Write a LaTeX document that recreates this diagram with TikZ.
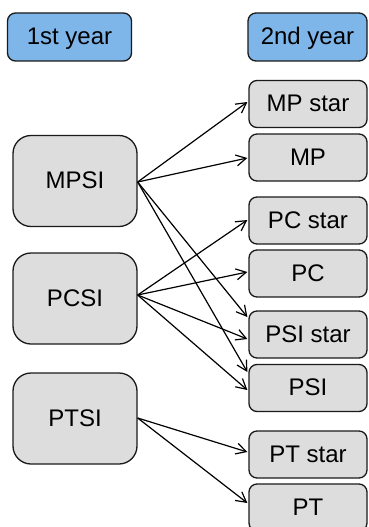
\documentclass[tikz,border=0pt]{standalone}
\usepackage{fontspec}
\setmainfont{Liberation Sans}
\usetikzlibrary{arrows.meta,calc}
\definecolor{boxblue}{HTML}{7EB6EA}
\definecolor{boxgray}{HTML}{DDDDDD}
\definecolor{edgecol}{HTML}{1A1A1A}
\begin{document}
\begin{tikzpicture}[x=1pt,y=-1pt,
  base/.style={draw=edgecol, line width=1.3pt, inner sep=0pt, text=black,
    font=\fontsize{24}{28}\selectfont, text height=17pt, text depth=2pt},
  headbox/.style={base, fill=boxblue, rounded corners=8pt, minimum width=124pt, minimum height=48pt},
  firstbox/.style={base, fill=boxgray, rounded corners=18pt, minimum width=124pt, minimum height=91pt},
  secondbox/.style={base, fill=boxgray, rounded corners=8pt, minimum width=118pt, minimum height=47pt},
  link/.style={draw=black, line width=1.2pt, -{Straight Barb[length=10pt,width=11pt]}}]
\useasboundingbox (0,0) rectangle (368,527);

\node[headbox] (y1) at (69.5,37) {1st year};
\node[headbox, minimum width=119pt] (y2) at (307.5,37) {2nd year};

\node[firstbox] (mpsi) at (75,181) {MPSI};
\node[firstbox] (pcsi) at (75,298.5) {PCSI};
\node[firstbox] (ptsi) at (75,418.5) {PTSI};

\node[secondbox] (mpstar) at (308,104) {MP star};
\node[secondbox] (mp) at (308,157.5) {MP};
\node[secondbox] (pcstar) at (308,220.5) {PC star};
\node[secondbox] (pc) at (308,273.5) {PC};
\node[secondbox] (psistar) at (308,334.5) {PSI star};
\node[secondbox] (psi) at (308,388) {PSI};
\node[secondbox] (ptstar) at (308,454.5) {PT star};
\node[secondbox] (pt) at (308,507.5) {PT};

% ports
\coordinate (mpsi-o) at ($(mpsi.east)+(0,1)$);
\coordinate (pcsi-o) at ($(pcsi.east)+(0,-3.5)$);
\coordinate (ptsi-o) at ($(ptsi.east)+(0,-0.5)$);
\coordinate (mpstar-i) at ($(mpstar.west)+(-1,-2)$);
\coordinate (mp-i) at ($(mp.west)+(-1,0.5)$);
\coordinate (pcstar-i) at ($(pcstar.west)+(-1,-0.5)$);
\coordinate (pc-i) at ($(pc.west)+(-1,-1.5)$);
\coordinate (psistar-a) at ($(psistar.west)+(-1,-17.5)$);
\coordinate (psistar-b) at ($(psistar.west)+(-1,4.5)$);
\coordinate (psi-a) at ($(psi.west)+(-1,-16)$);
\coordinate (psi-b) at ($(psi.west)+(-1,2)$);
\coordinate (ptstar-i) at ($(ptstar.west)+(-1,-2.5)$);
\coordinate (pt-i) at ($(pt.west)+(-1,-4.5)$);

\draw[link] (mpsi-o) -- (mpstar-i);
\draw[link] (mpsi-o) -- (mp-i);
\draw[link] (mpsi-o) -- (psistar-a);
\draw[link] (mpsi-o) -- (psi-a);
\draw[link] (pcsi-o) -- (pcstar-i);
\draw[link] (pcsi-o) -- (pc-i);
\draw[link] (pcsi-o) -- (psistar-b);
\draw[link] (pcsi-o) -- (psi-b);
\draw[link] (ptsi-o) -- (ptstar-i);
\draw[link] (ptsi-o) -- (pt-i);
\end{tikzpicture}
\end{document}
